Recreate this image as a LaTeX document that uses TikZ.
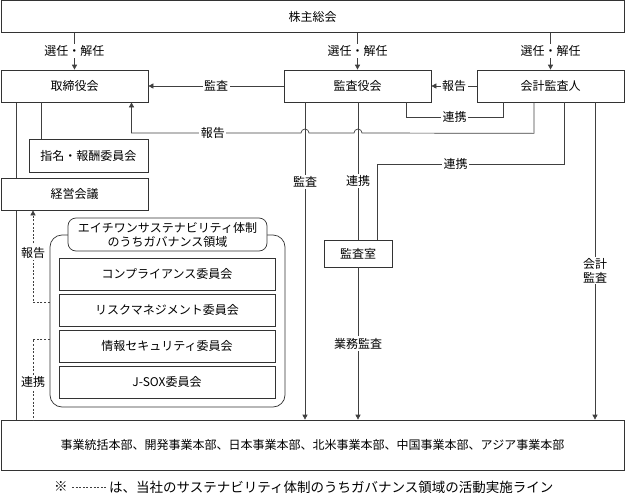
\documentclass[tikz,border=0pt]{standalone}
\usepackage{fontspec}
\setmainfont{Noto Sans CJK JP}
\usetikzlibrary{arrows.meta,backgrounds,calc}
\tikzset{
  txt/.style={font=\fontsize{12}{14}\selectfont},
  box/.style={draw=black!80, line width=0.7pt, fill=white, inner sep=0pt, txt, align=center},
  con/.style={draw=black!75, line width=0.7pt},
  arr/.style={con, -{Triangle[length=5pt,width=5pt]}},
  dsh/.style={con, dash pattern=on 2pt off 1.6pt},
  lab/.style={fill=white, inner sep=1.5pt, txt, align=center},
}
\begin{document}
\begin{tikzpicture}[x=1pt,y=-1pt]
\useasboundingbox (0,0) rectangle (625,493);

% x / y helper coordinates
\coordinate (x16) at (16,0);
\coordinate (x33) at (33,0);
\coordinate (x41) at (41,0);
\coordinate (x131) at (131.5,0);
\coordinate (x305) at (305,0);
\coordinate (x358) at (358,0);
\coordinate (x377) at (377,0);
\coordinate (x406) at (406,0);
\coordinate (x503) at (503,0);
\coordinate (x534) at (534,0);
\coordinate (x564) at (564,0);
\coordinate (x595) at (595,0);
\coordinate (y302) at (0,302);
\coordinate (y339) at (0,339);

% main nodes
\node[box, minimum width=623pt, minimum height=32pt] (soukai) at (312.5,16.5) {株主総会};
\node[box, minimum width=147pt, minimum height=32pt] (tori) at (74.5,86) {取締役会};
\node[box, minimum width=147pt, minimum height=32pt] (kansayaku) at (357.5,86) {監査役会};
\node[box, minimum width=147pt, minimum height=32pt] (kaikei) at (550.5,86) {会計監査人};
\node[box, minimum width=119pt, minimum height=33pt] (shimei) at (88.5,155.5) {指名・報酬委員会};
\node[box, minimum width=147pt, minimum height=32pt] (keiei) at (74.5,194) {経営会議};
\node[box, minimum width=68pt, minimum height=27pt] (shitsu) at (358,253.5) {監査室};
\node[box, minimum width=623pt, minimum height=50pt] (jigyo) at (312.5,445) {事業統括本部、開発事業本部、日本事業本部、北米事業本部、中国事業本部、アジア事業本部};

% governance group
\node[box, rounded corners=12pt, minimum width=235pt, minimum height=172pt] (grp) at (167.5,321) {};
\node[box, rounded corners=8pt, minimum width=199pt, minimum height=33pt] (gtitle) at (167.5,234.5) {エイチワンサステナビリティ体制\\のうちガバナンス領域};
\node[box, minimum width=216pt, minimum height=32pt] (comp) at (167,274) {コンプライアンス委員会};
\node[box, minimum width=216pt, minimum height=32pt] (risk) at (167,310) {リスクマネジメント委員会};
\node[box, minimum width=216pt, minimum height=32pt] (info) at (167,346) {情報セキュリティ委員会};
\node[box, minimum width=216pt, minimum height=32pt] (jsox) at (167,382) {J-SOX委員会};

% lines behind boxes
\begin{scope}[on background layer]
\draw[con] (x16 |- tori.south) -- (x16 |- jigyo.north);
\end{scope}
\draw[con] (x41 |- tori.south) -- (x41 |- shimei.north);

% election arrows
\draw[arr] (tori.north |- soukai.south) -- node[lab, pos=0.5] {選任・解任} (tori.north);
\draw[arr] (kansayaku.north |- soukai.south) -- node[lab, pos=0.5] {選任・解任} (kansayaku.north);
\draw[arr] (kaikei.north |- soukai.south) -- node[lab, pos=0.5] {選任・解任} (kaikei.north);

% audit / report on row 2
\draw[arr] (kansayaku.west) -- node[lab, pos=0.5] {監査} (tori.east);
\draw[arr] (kaikei.west) -- node[lab, pos=0.5] {報告} (kansayaku.east);

% cooperation between board of auditors and accounting auditor
\draw[con] (x406 |- kansayaku.south) -- ++(0,15) -| node[lab, pos=0.25] {連携} (x503 |- kaikei.south);

% vertical lines from board of auditors
\draw[arr] (x305 |- kansayaku.south) -- node[lab, pos=0.25] {監査} (x305 |- jigyo.north);
\draw[con] (x358 |- kansayaku.south) -- node[lab, pos=0.57] {連携} (shitsu.north);
\draw[arr] (shitsu.south) -- node[lab, pos=0.5] {業務監査} (shitsu.south |- jigyo.north);

% report line with hops
\draw[arr] (x534 |- kaikei.south) -- ++(0,31) -- (362,133)
  arc[start angle=0, end angle=180, radius=4pt] -- (309,133)
  arc[start angle=0, end angle=180, radius=4pt] -- node[lab, pos=0.52] {報告} (131.5,133)
  -- (x131 |- tori.south);

% cooperation accounting auditor -> audit office
\draw[con] (x564 |- kaikei.south) -- ++(0,62) -| node[lab, pos=0.29] {連携} (x377 |- shitsu.north);

% accounting audit
\draw[arr] (x595 |- kaikei.south) -- node[lab, pos=0.53] {会計\\監査} (x595 |- jigyo.north);

% dashed lines (governance activity)
\draw[dsh, -{Triangle[length=5pt,width=5pt]}] (grp.west |- y302) -| node[lab, pos=0.77] {報告} (x33 |- keiei.south);
\draw[dsh] (grp.west |- y339) -| node[lab, pos=0.765] {連携} (x33 |- jigyo.north);

% footnote
\node[anchor=west, inner sep=0pt, font=\fontsize{13.5}{15}\selectfont] (kome) at (54,487) {※};
\coordinate (ls) at (72,487);
\coordinate (le) at (106,487);
\draw[dsh] (ls) -- (le);
\node[anchor=west, inner sep=0pt, font=\fontsize{13.5}{15}\selectfont] (note) at (109,487) {は、当社のサステナビリティ体制のうちガバナンス領域の活動実施ライン};
\end{tikzpicture}
\end{document}
